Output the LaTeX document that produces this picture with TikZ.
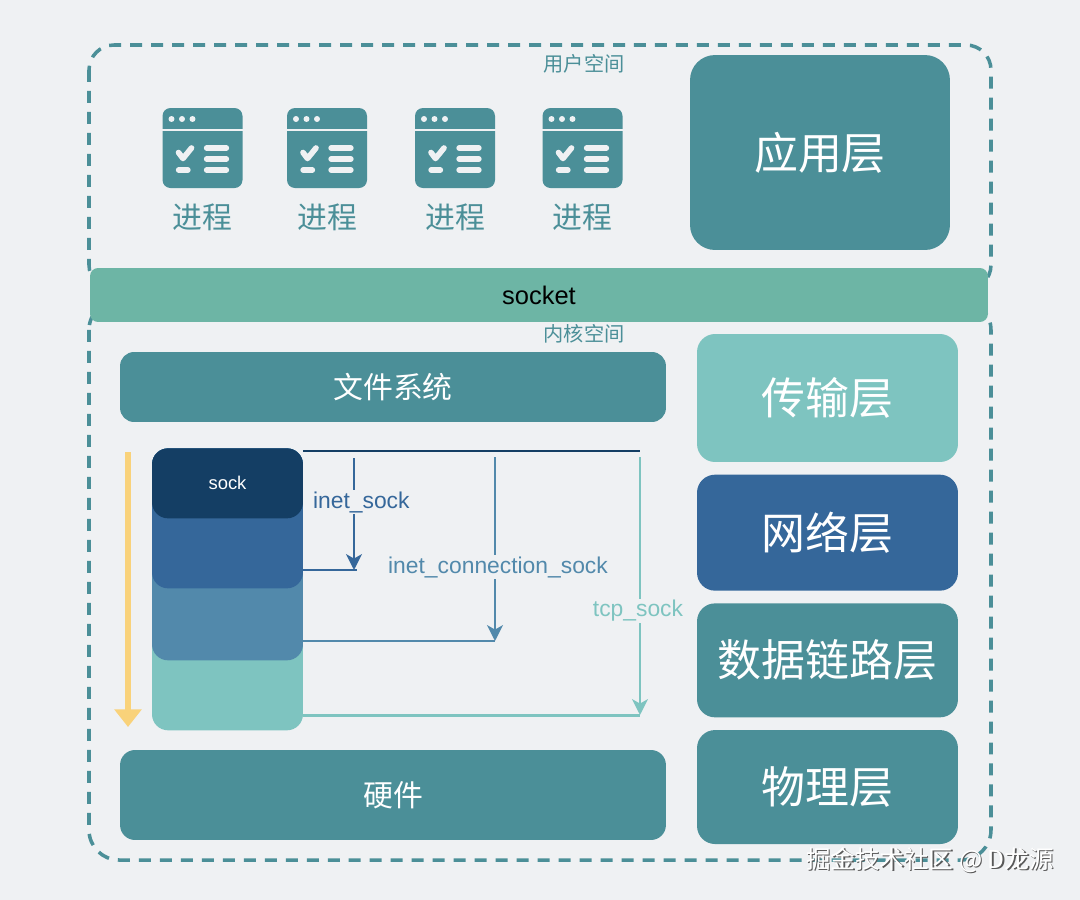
\documentclass[tikz,border=0pt]{standalone}
\usepackage{fontspec}
\setmainfont{Liberation Sans}
\newfontfamily\cjk{Noto Sans CJK SC}
\usepackage{tikz}
\usetikzlibrary{positioning,calc,arrows.meta}

\definecolor{bgcol}{HTML}{EFF1F3}
\definecolor{tealdk}{HTML}{4B8F98}
\definecolor{sockgreen}{HTML}{6DB5A5}
\definecolor{teallt}{HTML}{7EC4C0}
\definecolor{navy}{HTML}{35679A}
\definecolor{navydk}{HTML}{143E64}
\definecolor{bluemid}{HTML}{5289AB}
\definecolor{yellowarr}{HTML}{F9D27A}

\tikzset{
    layer/.style={fill=#1, rounded corners=0.36cm, text=white, inner sep=0pt},
    bigcn/.style={font=\cjk\fontsize{25}{30}\selectfont},
    midcn/.style={font=\cjk\fontsize{17}{20}\selectfont},
    smallcn/.style={font=\cjk\fontsize{11.5}{13}\selectfont, text=tealdk},
    space/.style={draw=tealdk, line width=2pt, dash pattern=on 0.24cm off 0.18cm, rounded corners=0.5cm},
    typelbl/.style={fill=bgcol, inner sep=1pt, font=\fontsize{13}{15}\selectfont},
    iconbar/.style={bgcol, line width=3pt, line cap=round},
    inherit/.style={line width=1.7pt, -{Stealth[length=9pt,width=9pt,inset=2.5pt]}},
}

\begin{document}
\begin{tikzpicture}[x=0.02cm, y=-0.02cm]
    \fill[bgcol] (0,0) rectangle (1080,900);
    \useasboundingbox (0,0) rectangle (1080,900);

    % user space / kernel space
    \draw[space] (89,45) rectangle (991,290);
    \draw[space, rounded corners=0.6cm] (89,300) rectangle (991,860);
    \node[smallcn] (userlbl) at (584,64) {用户空间};

    % processes
    \foreach \cx [count=\i] in {202.5,327,455,582.5} {
        \fill[tealdk, rounded corners=0.16cm] (\cx-40,108) rectangle (\cx+40,188);
        \draw[bgcol, line width=1.5pt] (\cx-41,130) -- (\cx+41,130);
        \foreach \dx in {-31,-20.5,-10}
            \fill[bgcol] (\cx+\dx,119) circle (1.7pt);
        \draw[bgcol, line width=3.2pt, line cap=round, line join=round]
            (\cx-24,152.5) -- (\cx-19.5,158.5) -- (\cx-11,148);
        \draw[iconbar] (\cx-24,170) -- (\cx-14.5,170);
        \foreach \yy in {148,159,170}
            \draw[iconbar] (\cx+4,\yy) -- (\cx+24,\yy);
        \node[midcn, text=tealdk] (proc\i) at (\cx,217) {进程};
    }

    \node[layer=tealdk, rounded corners=0.5cm, minimum width=5.2cm, minimum height=3.9cm, bigcn] (app) at (820,152.5) {应用层};

    % socket
    \node[layer=sockgreen, rounded corners=0.16cm, minimum width=17.96cm, minimum height=1.08cm,
        text=black, font=\fontsize{14.5}{17}\selectfont] (sockbar) at (539,295) {socket};
    \node[smallcn] (kernlbl) at (584,334) {内核空间};

    \node[layer=tealdk, rounded corners=0.28cm, minimum width=10.92cm, minimum height=1.4cm, midcn] (fs) at (393,387) {文件系统};
    \node[layer=tealdk, rounded corners=0.3cm, minimum width=10.92cm, minimum height=1.8cm, midcn] (hw) at (393,795) {硬件};

    % protocol layers
    \node[layer=teallt, minimum width=5.22cm, minimum height=2.56cm, bigcn] (trans) at (827.5,398) {传输层};
    \node[layer=navy, minimum width=5.22cm, minimum height=2.32cm, bigcn, below=0.24cm of trans] (net) {网络层};
    \node[layer=tealdk, minimum width=5.22cm, minimum height=2.28cm, bigcn, below=0.24cm of net] (link) {数据链路层};
    \node[layer=tealdk, minimum width=5.22cm, minimum height=2.28cm, bigcn, below=0.24cm of link] (phys) {物理层};

    % sock stack
    \node[layer=teallt, rounded corners=0.32cm, minimum width=3.02cm, minimum height=5.64cm, anchor=north] (sk4) at (227.5,448) {};
    \node[layer=bluemid, rounded corners=0.32cm, minimum width=3.02cm, minimum height=4.24cm, anchor=north] (sk3) at (227.5,448) {};
    \node[layer=navy, rounded corners=0.32cm, minimum width=3.02cm, minimum height=2.8cm, anchor=north] (sk2) at (227.5,448) {};
    \node[layer=navydk, rounded corners=0.32cm, minimum width=3.02cm, minimum height=1.4cm, anchor=north,
        font=\fontsize{10.5}{12}\selectfont] (sk1) at (227.5,448) {sock};

    \coordinate (flowA) at (128,452);
    \coordinate (flowB) at (128,727);
    \draw[yellowarr, line width=3.6pt, -{Triangle[length=10pt,width=15pt]}] (flowA) -- (flowB);

    \coordinate (topR) at (640,451);
    \coordinate (isA) at (354,458);
    \coordinate (isB) at (354,570);
    \coordinate (icA) at (495,457);
    \coordinate (icB) at (495,641);
    \coordinate (tcA) at (640,457);
    \coordinate (tcB) at (640,715);

    \draw[navydk, line width=1.7pt] (sk1.east |- topR) -- (topR);
    \draw[navy, inherit] (isA) -- (isB);
    \draw[navy, line width=1.7pt] (sk2.east |- isB) -- ($(isB)+(3,0)$);
    \draw[bluemid, inherit] (icA) -- (icB);
    \draw[bluemid, line width=1.7pt] (sk3.east |- icB) -- (icB);
    \draw[teallt, inherit] (tcA) -- (tcB);
    \draw[teallt, line width=1.7pt] (sk4.east |- tcB) -- (tcB);

    \node[typelbl, text=navy, anchor=west] (inetsk) at (311,502) {inet\_sock};
    \node[typelbl, text=bluemid] (conn) at (498,567) {inet\_connection\_sock};
    \node[typelbl, text=teallt] (tcp) at (638,611) {tcp\_sock};

    % watermark
    \node[font=\cjk\fontsize{14}{16}\selectfont, text=black!65] (wmshadow) at (931.5,861.5) {掘金技术社区 @ D龙源};
    \node[font=\cjk\fontsize{14}{16}\selectfont, text=white] (wm) at (930,860) {掘金技术社区 @ D龙源};
\end{tikzpicture}
\end{document}
